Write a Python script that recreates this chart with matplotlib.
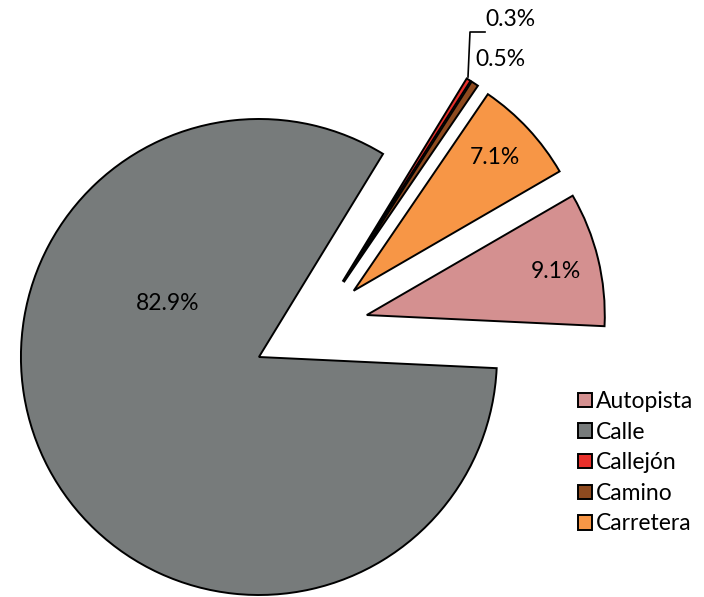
import matplotlib
matplotlib.use("Agg")
import matplotlib.pyplot as plt

categories = ["Autopista", "Calle", "Callejón", "Camino", "Carretera"]
values = [9.1, 82.9, 0.3, 0.5, 7.1]
pct_labels = ["9.1%", "82.9%", "0.3%", "0.5%", "7.1%"]
colors = ["#D49090", "#777B7B", "#E8302B", "#8E4A1F", "#F79646"]
explode_frac = [0.23, 0.26, 0.23, 0.23, 0.23]

plt.rcParams['font.family'] = ['Lato', 'DejaVu Sans']

W, H = 704, 597
fig = plt.figure(figsize=(W / 100, H / 100), dpi=100)
ax = fig.add_axes([0, 0, 1, 1])

cx, cy = 313.6, H - 328
R = 238
explode = [e * R for e in explode_frac]
wedges, _ = ax.pie(values, colors=colors, explode=explode, startangle=30.1,
                   counterclock=False, center=(cx, cy), radius=R,
                   wedgeprops=dict(edgecolor='black', linewidth=1.4),
                   frame=True)
ax.set_xlim(0, W)
ax.set_ylim(0, H)
ax.set_aspect('equal')
ax.axis('off')

fs = 16.5
label_pos = {
    "82.9%": (168, 303),
    "9.1%": (556, 272),
    "7.1%": (495, 157),
}
for t, (x, y) in label_pos.items():
    ax.text(x, H - y, t, ha='center', va='center', fontsize=fs)
ax.text(475, H - 60, pct_labels[3], ha='left', va='center', fontsize=fs)
ax.text(485, H - 20, pct_labels[2], ha='left', va='center', fontsize=fs)
ax.plot([468, 470, 485], [H - 77, H - 32, H - 32], color='black', lw=1.2)

leg = ax.legend(wedges, categories, loc='upper left',
                bbox_to_anchor=(578, H - 391), bbox_transform=ax.transData,
                frameon=False, fontsize=16.5, handlelength=0.6, handleheight=0.6,
                handletextpad=0.2, labelspacing=0.42, borderpad=0, borderaxespad=0)

fig.savefig("out.png", dpi=100)
